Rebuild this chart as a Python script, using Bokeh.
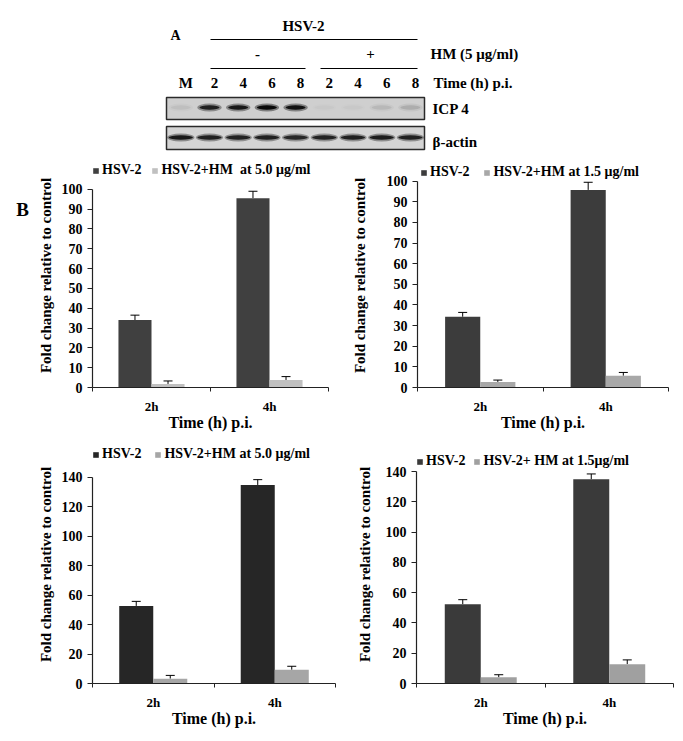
from bokeh.plotting import figure
from bokeh.models import (Range1d, FixedTicker, Legend, LegendItem, Whisker,
                          ColumnDataSource, TeeHead)
from bokeh.layouts import column, row
from bokeh.embed import file_html
from bokeh.resources import INLINE
from bokeh.core.properties import value

FONT = "Liberation Serif"

# ---------------- Panel A data (western blot) ----------------
lanes = ["M", "2", "4", "6", "8", "2", "4", "6", "8"]
icp4_intensity = [0.05, 0.80, 0.85, 0.97, 0.90, 0.02, 0.02, 0.08, 0.12]
actin_intensity = [0.85, 0.80, 0.78, 0.80, 0.76, 0.78, 0.80, 0.82, 0.80]

# ---------------- Panel B data ----------------
times = ["2h", "4h"]
tl_hsv = [34.0, 95.5]
tl_hsv_err = [2.5, 3.5]
tl_hm = [1.8, 3.8]
tl_hm_err = [1.5, 1.7]

tr_hsv = [34.3, 95.8]
tr_hsv_err = [2.1, 3.7]
tr_hm = [2.7, 5.7]
tr_hm_err = [0.9, 1.6]

bl_hsv = [52.7, 134.9]
bl_hsv_err = [3.1, 3.6]
bl_hm = [3.3, 9.3]
bl_hm_err = [2.2, 2.4]

br_hsv = [52.4, 135.0]
br_hsv_err = [3.0, 3.5]
br_hm = [4.1, 12.8]
br_hm_err = [1.7, 2.8]

# ---------------- Panel A ----------------
pitch = 28.7
x0 = 180.3
def lx(px):
    return (px - x0) / pitch

pa = figure(width=683, height=160, x_range=Range1d(lx(0), lx(683)),
            y_range=Range1d(160, 0), toolbar_location=None, output_backend="svg",
            min_border=0, x_axis_location=None, y_axis_location=None)
pa.xgrid.visible = False
pa.ygrid.visible = False
pa.outline_line_color = None

def txt(p, x, y, t, size="15px", align="center"):
    p.text(x=[x], y=[y], text=[t], text_font=value(FONT), text_font_style="bold",
           text_font_size=size, text_align=align, text_baseline="middle", text_color="black")

txt(pa, lx(175), 35, "A", "14px")
txt(pa, lx(303), 25, "HSV-2")
pa.segment(x0=[lx(210)], y0=[39], x1=[lx(417)], y1=[39], line_color="black", line_width=1)
txt(pa, lx(257), 53, "-")
txt(pa, lx(370), 53, "+")
txt(pa, lx(430), 53, "HM (5 μg/ml)", align="left")
pa.segment(x0=[lx(210), lx(320)], y0=[68, 68], x1=[lx(305), lx(417)], y1=[68, 68],
           line_color="black", line_width=1)
lane_idx = list(range(len(lanes)))
pa.text(x=lane_idx, y=[82] * len(lanes), text=lanes, text_font=value(FONT),
        text_font_style="bold", text_font_size="15px", text_align="center",
        text_baseline="middle", x_offset=5)
txt(pa, lx(433), 82, "Time (h) p.i.", align="left")

# blot boxes
pa.quad(left=[lx(166)], right=[lx(424)], top=[97], bottom=[119], fill_color="#cfcfcf",
        line_color="#2a2a2a", line_width=1.5)
pa.quad(left=[lx(166)], right=[lx(424)], top=[126], bottom=[149], fill_color="#d4d4d4",
        line_color="#2a2a2a", line_width=1.5)
# bands
pa.ellipse(x=lane_idx, y=[107] * len(lanes), width=0.85, height=8,
           fill_color="#111111", fill_alpha=[v * 0.45 for v in icp4_intensity], line_color=None)
pa.ellipse(x=lane_idx, y=[107] * len(lanes), width=0.7, height=4.5,
           fill_color="#050505", fill_alpha=icp4_intensity, line_color=None)
pa.ellipse(x=lane_idx, y=[137] * len(lanes), width=0.95, height=8,
           fill_color="#111111", fill_alpha=[v * 0.45 for v in actin_intensity], line_color=None)
pa.ellipse(x=lane_idx, y=[137] * len(lanes), width=0.85, height=4.5,
           fill_color="#050505", fill_alpha=actin_intensity, line_color=None)
txt(pa, lx(432), 108, "ICP 4", align="left")
txt(pa, lx(432), 141, "β-actin", align="left")

# ---------------- "B" label strip ----------------
pb = figure(width=34, height=280, x_range=Range1d(0, 34), y_range=Range1d(280, 0),
            toolbar_location=None, output_backend="svg", min_border=0,
            x_axis_location=None, y_axis_location=None)
pb.xgrid.visible = False
pb.ygrid.visible = False
pb.outline_line_color = None
txt(pb, 22, 57, "B", "19px")


# ---------------- Panel B ----------------
def bar_chart(width, height, bl, br, bt, bb, ymax, ytop, ystep, hsv, hsv_err, hm, hm_err,
              dark, light, hm_label, leg_xy, leg_spacing, ylab_standoff):
    p = figure(width=width, height=height, x_range=Range1d(0, len(times)),
               y_range=Range1d(0, ytop), toolbar_location=None, output_backend="svg",
               min_border_left=bl, min_border_right=br, min_border_top=bt,
               min_border_bottom=bb)
    p.xgrid.visible = False
    p.ygrid.visible = False
    p.outline_line_color = None
    centers = [i + 0.5 for i in range(len(times))]
    off, bw = 0.14, 0.28
    xd = [c - off for c in centers]
    xl = [c + off for c in centers]
    r1 = p.vbar(x=xd, top=hsv, width=bw, fill_color=dark, line_color=None)
    r2 = p.vbar(x=xl, top=hm, width=bw, fill_color=light, line_color=None)
    src = ColumnDataSource(dict(
        x=xd + xl, lower=hsv + hm,
        upper=[v + e for v, e in zip(hsv, hsv_err)] + [v + e for v, e in zip(hm, hm_err)]))
    w = Whisker(source=src, base="x", lower="lower", upper="upper", dimension="height",
                line_color="black", line_width=1,
                upper_head=TeeHead(size=9, line_color="black", line_width=1), lower_head=None)
    p.add_layout(w)

    # axes
    p.yaxis.ticker = FixedTicker(ticks=list(range(0, ymax + 1, ystep)))
    p.yaxis.bounds = (0, ymax)
    p.xaxis.ticker = FixedTicker(ticks=centers, minor_ticks=list(range(len(times) + 1)))
    p.xaxis.major_label_overrides = {c: t for c, t in zip(centers, times)}
    for ax in (p.xaxis[0], p.yaxis[0]):
        ax.axis_line_color = "#222222"
        ax.axis_line_width = 1.2
        ax.major_label_text_font = FONT
        ax.major_label_text_font_style = "bold"
        ax.major_label_text_font_size = "14px"
        ax.major_label_text_color = "black"
        ax.axis_label_text_font = FONT
        ax.axis_label_text_font_style = "bold"
        ax.axis_label_text_color = "black"
    p.xaxis.major_tick_out = 0
    p.xaxis.major_tick_in = 0
    p.xaxis.minor_tick_out = 4
    p.xaxis.minor_tick_in = 0
    p.xaxis.minor_tick_line_color = "#222222"
    p.xaxis.major_label_text_font_size = "13px"
    p.xaxis.major_label_standoff = 7
    p.xaxis.axis_label = "Time (h) p.i."
    p.xaxis.axis_label_text_font_size = "16px"
    p.xaxis.axis_label_standoff = -3
    p.yaxis.major_tick_out = 5
    p.yaxis.major_tick_in = 0
    p.yaxis.minor_tick_out = 0
    p.yaxis.minor_tick_in = 0
    p.yaxis.major_tick_line_color = "#222222"
    p.yaxis.major_label_standoff = 5
    p.yaxis.axis_label = "Fold change relative to control"
    p.yaxis.axis_label_text_font_size = "15px"
    p.yaxis.axis_label_standoff = ylab_standoff

    leg = Legend(items=[LegendItem(label="HSV-2", renderers=[r1]),
                        LegendItem(label=hm_label, renderers=[r2])],
                 orientation="horizontal", location=leg_xy, glyph_width=7, glyph_height=7,
                 label_text_font=FONT, label_text_font_style="bold",
                 label_text_font_size="14px", label_text_color="black",
                 label_standoff=3, label_height=14, spacing=leg_spacing, padding=0, margin=0,
                 border_line_color=None, background_fill_alpha=0)
    p.add_layout(leg)
    return p


p1 = bar_chart(306, 280, 58, 12, 2, 52, 100, 113, 10, tl_hsv, tl_hsv_err, tl_hm, tl_hm_err,
               "#404040", "#c0c0c0", "HSV-2+HM  at 5.0 μg/ml", (0, 209), 10, 5)
p2 = bar_chart(343, 280, 77, 15, 3, 53, 100, 108.6, 10, tr_hsv, tr_hsv_err, tr_hm, tr_hm_err,
               "#3c3c3c", "#a8a8a8", "HSV-2+HM at 1.5 μg/ml", (3, 207), 14, 16)
p3 = bar_chart(340, 301, 92, 5, 0, 58, 140, 161.7, 20, bl_hsv, bl_hsv_err, bl_hm, bl_hm_err,
               "#262626", "#a6a6a6", "HSV-2+HM at 5.0 μg/ml", (0, 221), 13, 5)
p4 = bar_chart(343, 301, 76, 10, 5, 54, 140, 157.3, 20, br_hsv, br_hsv_err, br_hm, br_hm_err,
               "#3a3a3a", "#a0a0a0", "HSV-2+ HM at 1.5μg/ml", (0, 214), 8, 10)

layout = column(pa, row(pb, p1, p2, spacing=0), row(p3, p4, spacing=0), spacing=0)
open("out.html", "w").write(file_html(layout, INLINE))
